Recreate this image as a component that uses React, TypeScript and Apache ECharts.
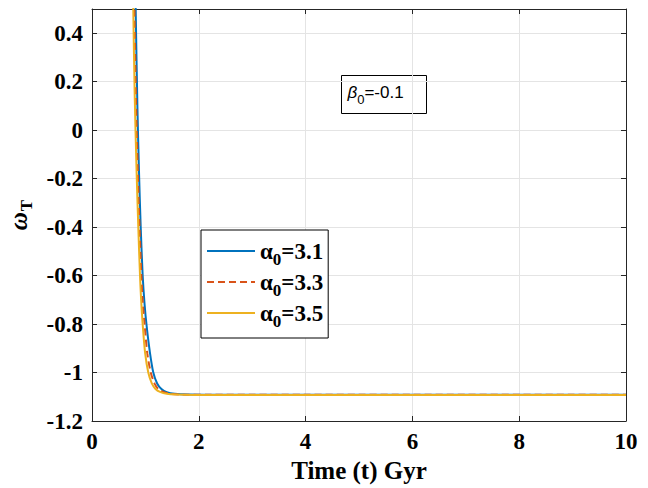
import React, { useEffect, useRef } from "react";
import * as echarts from "echarts";

// Tick values
const xTicks = [0, 2, 4, 6, 8, 10];
const yTicks = [-1.2, -1, -0.8, -0.6, -0.4, -0.2, 0, 0.2, 0.4];

// Series names
const names = ["α0=3.1", "α0=3.3", "α0=3.5"];
const alphaVals = ["3.1", "3.3", "3.5"];

// alpha0 = 3.1
const t31 = [0.79, 0.818, 0.85, 0.88, 0.912, 0.949, 0.985, 1.024, 1.08, 1.148, 1.22, 1.3, 1.4, 1.55, 1.8, 2.5, 3, 4, 5, 6, 7, 8, 9, 10];
const w31 = [0.95, 0.5, 0.1, -0.17, -0.4, -0.6, -0.72, -0.81, -0.91, -1.0, -1.045, -1.068, -1.081, -1.088, -1.091, -1.092, -1.092, -1.092, -1.092, -1.092, -1.092, -1.092, -1.092, -1.092];

// alpha0 = 3.3
const t33 = [0.767, 0.795, 0.825, 0.858, 0.89, 0.924, 0.95, 0.985, 1.035, 1.1, 1.17, 1.24, 1.335, 1.47, 1.7, 2.2, 3, 4, 5, 6, 7, 8, 9, 10];
const w33 = [0.95, 0.5, 0.12, -0.17, -0.4, -0.6, -0.71, -0.8, -0.92, -1.0, -1.045, -1.068, -1.08, -1.088, -1.091, -1.092, -1.092, -1.092, -1.092, -1.092, -1.092, -1.092, -1.092, -1.092];

// alpha0 = 3.5
const t35 = [0.745, 0.773, 0.8, 0.835, 0.867, 0.899, 0.92, 0.949, 0.995, 1.054, 1.12, 1.19, 1.273, 1.4, 1.6, 2.0, 3, 4, 5, 6, 7, 8, 9, 10];
const w35 = [0.95, 0.5, 0.14, -0.17, -0.4, -0.6, -0.7, -0.8, -0.92, -1.0, -1.045, -1.068, -1.08, -1.088, -1.091, -1.093, -1.093, -1.093, -1.093, -1.093, -1.093, -1.093, -1.093, -1.093];

const colors = ["#0072BD", "#D95319", "#EDB120"];

const zip = (a: number[], b: number[]) => a.map((v, i) => [v, b[i]]);

export default function App() {
  const ref = useRef<HTMLDivElement>(null);
  useEffect(() => {
    document.body.style.margin = "0";
    const chart = echarts.init(ref.current!, null, { renderer: "svg" });
    const serif = "'Liberation Serif', 'Times New Roman', serif";
    const sans = "'Liberation Sans', Arial, sans-serif";
    const axisColor = "#262626";
    const fmt = (v: number) => String(Math.round(v * 10) / 10);
    const baseX = {
      type: "value" as const,
      min: xTicks[0],
      max: xTicks[xTicks.length - 1],
      interval: 2,
    };
    const baseY = {
      type: "value" as const,
      min: yTicks[0],
      max: 0.5,
      interval: 0.2,
    };
    const seriesData = [zip(t31, w31), zip(t33, w33), zip(t35, w35)];
    chart.setOption({
      animation: false,
      backgroundColor: "#ffffff",
      grid: { left: 92, right: 22, top: 9, bottom: 67, containLabel: false, outerBoundsMode: "none" },
      xAxis: [
        {
          ...baseX,
          position: "bottom",
          axisLine: { show: true, onZero: false, lineStyle: { color: axisColor, width: 1 } },
          axisTick: { show: true, inside: true, length: 5, lineStyle: { color: axisColor } },
          axisLabel: {
            margin: 9,
            color: "#000",
            fontFamily: serif,
            fontWeight: "bold",
            fontSize: 23,
            formatter: fmt,
          },
          splitLine: { show: true, lineStyle: { color: "#e4e4e4", width: 1 } },
          name: "Time (t) Gyr",
          nameLocation: "middle",
          nameGap: 30,
          nameTextStyle: { color: "#000", fontFamily: serif, fontWeight: "bold", fontSize: 25 },
        },
        {
          ...baseX,
          position: "top",
          axisLine: { show: true, onZero: false, lineStyle: { color: axisColor, width: 1 } },
          axisTick: { show: true, inside: true, length: 5, lineStyle: { color: axisColor } },
          axisLabel: { show: false },
          splitLine: { show: false },
        },
      ],
      yAxis: [
        {
          ...baseY,
          position: "left",
          axisLine: { show: true, onZero: false, lineStyle: { color: axisColor, width: 1 } },
          axisTick: { show: true, inside: true, length: 5, lineStyle: { color: axisColor } },
          axisLabel: {
            margin: 9,
            color: "#000",
            fontFamily: serif,
            fontWeight: "bold",
            fontSize: 23,
            showMaxLabel: false,
            formatter: (v: number) => (v > 0.45 ? "" : fmt(v)),
          },
          splitLine: { show: true, lineStyle: { color: "#e4e4e4", width: 1 } },
          name: "{w|ω}{t|T}",
          nameLocation: "middle",
          nameRotate: 90,
          nameGap: 64,
          nameTextStyle: {
            rich: {
              w: { fontFamily: serif, fontStyle: "italic", fontWeight: "bold", fontSize: 25, color: "#000", lineHeight: 22, verticalAlign: "top" },
              t: { fontFamily: serif, fontWeight: "bold", fontSize: 17, color: "#000", lineHeight: 16, padding: [12, 0, 0, 1], verticalAlign: "top" },
            },
          },
        },
        {
          ...baseY,
          position: "right",
          axisLine: { show: true, onZero: false, lineStyle: { color: axisColor, width: 1 } },
          axisTick: { show: true, inside: true, length: 5, lineStyle: { color: axisColor } },
          axisLabel: { show: false },
          splitLine: { show: false },
        },
      ],
      legend: {
        orient: "vertical",
        left: 201,
        top: 230,
        data: names,
        itemWidth: 48,
        itemHeight: 14,
        itemGap: 3,
        padding: [10, 5, 8, 5],
        borderColor: "#000",
        borderWidth: 1,
        backgroundColor: "#fff",
        borderRadius: 0,
        itemStyle: { opacity: 0 },
        formatter: (name: string) => {
          const i = names.indexOf(name);
          return `{a|α}{s|0}{b|=${alphaVals[i]}}`;
        },
        textStyle: {
          padding: [0, 0, 0, 0],
          rich: {
            a: { fontFamily: serif, fontWeight: "bold", fontSize: 23, color: "#000", lineHeight: 22, verticalAlign: "top" },
            s: { fontFamily: serif, fontWeight: "bold", fontSize: 17, color: "#000", lineHeight: 16, padding: [11, 0, 0, 0], verticalAlign: "top" },
            b: { fontFamily: serif, fontWeight: "bold", fontSize: 23, color: "#000", lineHeight: 22, verticalAlign: "top" },
          },
        },
      },
      graphic: [
        {
          type: "group",
          left: 341,
          top: 75,
          children: [
            {
              type: "rect",
              shape: { x: 0, y: 0, width: 85, height: 38 },
              style: { fill: "#fff", stroke: "#000", lineWidth: 1 },
            },
            {
              type: "text",
              x: 6,
              y: 8,
              style: {
                text: "{b|β}{s|0}{t|=-0.1}",
                rich: {
                  b: { fontFamily: sans, fontStyle: "italic", fontSize: 17, fill: "#000", lineHeight: 18, verticalAlign: "top" },
                  s: { fontFamily: sans, fontSize: 13, fill: "#000", lineHeight: 13, padding: [9, 0, 0, 0], verticalAlign: "top" },
                  t: { fontFamily: sans, fontSize: 17, fill: "#000", lineHeight: 18, verticalAlign: "top" },
                },
              },
            },
          ],
        },
      ],
      series: names.map((n, i) => ({
        name: n,
        type: "line",
        xAxisIndex: 0,
        yAxisIndex: 0,
        data: seriesData[i],
        showSymbol: false,
        symbol: "none",
        smooth: 0.3,
        clip: true,
        z: 2 + i,
        lineStyle: {
          color: colors[i],
          width: 2,
          type: i === 1 ? [7, 4] : "solid",
        },
        itemStyle: { color: colors[i] },
      })),
    });
    return () => chart.dispose();
  }, []);
  return <div ref={ref} style={{ position: "absolute", left: 0, top: 0, width: 648, height: 488 }} />;
}
